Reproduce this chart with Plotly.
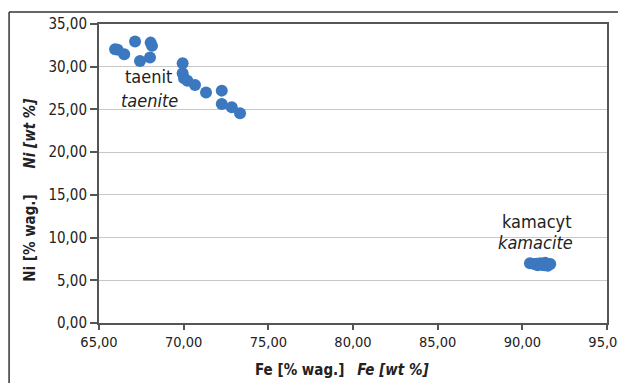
import plotly.graph_objects as go

# Taenite (taenit) points: Fe wt%, Ni wt%
taenite_fe = [65.95, 66.1, 66.49, 67.13, 67.42, 68.05, 68.13, 68.01, 69.94, 69.94, 70.02, 70.22,
              70.67, 71.32, 72.25, 72.25, 72.84, 73.33]
taenite_ni = [32.05, 32.0, 31.46, 32.94, 30.68, 32.82, 32.44, 31.07, 30.41, 29.24, 28.65, 28.37,
              27.87, 26.97, 27.2, 25.64, 25.26, 24.56]

# Kamacite (kamacyt) points
kamacite_fe = [90.45, 90.7, 90.9, 91.05, 91.2, 91.35, 91.5, 91.65, 90.85, 91.3]
kamacite_ni = [7.0, 6.9, 6.75, 7.0, 6.8, 7.05, 6.7, 6.9, 6.95, 6.75]

x_ticks = [65, 70, 75, 80, 85, 90, 95]
y_ticks = [0, 5, 10, 15, 20, 25, 30, 35]

FONT = "Liberation Sans Narrow, DejaVu Sans Condensed, Arial Narrow, sans-serif"
BLUE = "#3b78c0"
TXT = "#222"
SP = "&nbsp;"

fig = go.Figure()
fig.add_trace(go.Scatter(x=taenite_fe + kamacite_fe, y=taenite_ni + kamacite_ni,
                         mode="markers",
                         marker=dict(color=BLUE, size=12, line=dict(width=0)),
                         showlegend=False, hoverinfo="x+y"))

fig.update_layout(
    width=618, height=375,
    margin=dict(l=91, r=19, t=16, b=60),
    paper_bgcolor="white", plot_bgcolor="white",
    separators=", ",
    font=dict(family=FONT, size=15, color=TXT),
    xaxis=dict(range=[65, 95], tickvals=x_ticks, tickformat=".2f", automargin=False,
               showgrid=False, zeroline=False, ticklabeloverflow="allow",
               showline=True, linecolor="#555", linewidth=2, mirror=True,
               ticks="outside", ticklen=5, tickcolor="#555", tickwidth=1.5,
               tickfont=dict(size=14.5, color=TXT)),
    yaxis=dict(range=[0, 35], tickvals=y_ticks, tickformat=".2f", automargin=False,
               showgrid=True, gridcolor="#c8c8c8", gridwidth=1, zeroline=False,
               ticklabeloverflow="allow",
               showline=True, linecolor="#555", linewidth=2, mirror=True,
               ticks="outside", ticklen=7, tickcolor="#555", tickwidth=1.5,
               tickfont=dict(size=15, color=TXT)),
    annotations=[
        dict(x=67.95, y=28.8, xref="x", yref="y", text="taenit", showarrow=False,
             font=dict(size=18, color=TXT)),
        dict(x=67.98, y=26.0, xref="x", yref="y", text="<i>taenite</i>", showarrow=False,
             font=dict(size=18, color=TXT)),
        dict(x=90.87, y=11.94, xref="x", yref="y", text="kamacyt", showarrow=False,
             font=dict(size=18, color=TXT)),
        dict(x=90.8, y=9.37, xref="x", yref="y", text="<i>kamacite</i>", showarrow=False,
             font=dict(size=18, color=TXT)),
        dict(x=0.478, y=-0.157, xref="paper", yref="paper", showarrow=False,
             xanchor="center", yanchor="middle",
             text="<b>Fe [% wag.]</b>" + SP * 3 + "<b><i>Fe [wt %]</i></b>",
             font=dict(size=15, color=TXT)),
        dict(x=-0.136, y=0.445, xref="paper", yref="paper", showarrow=False, textangle=-90,
             xanchor="center", yanchor="middle",
             text="<b>Ni [% wag.]</b>" + SP * 6 + "<b><i>Ni [wt %]</i></b>",
             font=dict(size=15, color=TXT)),
    ],
    shapes=[
        dict(type="line", xref="paper", yref="paper", x0=-0.177, x1=1.2, y0=1.040, y1=1.040,
             line=dict(color="#333", width=1.5)),
        dict(type="line", xref="paper", yref="paper", x0=-0.177, x1=-0.177, y0=-0.4, y1=1.040,
             line=dict(color="#333", width=1.5)),
    ],
)

fig.write_html("out.html")
